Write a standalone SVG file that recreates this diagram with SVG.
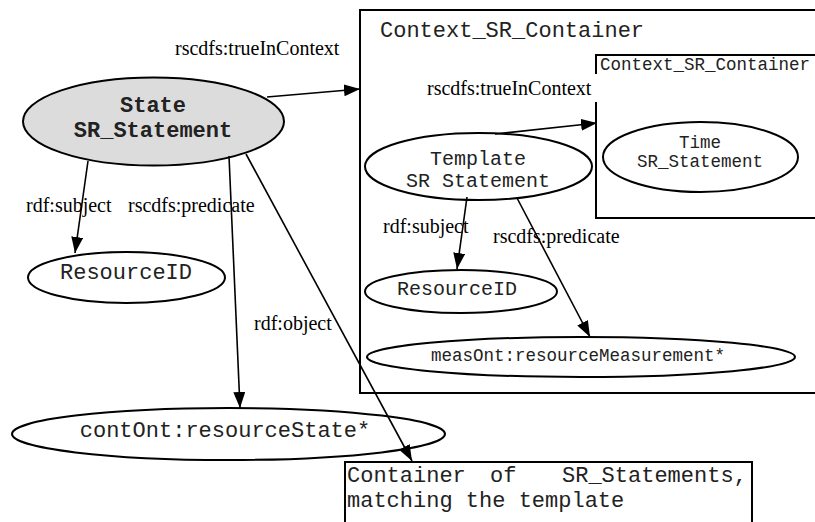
<svg xmlns="http://www.w3.org/2000/svg" width="815" height="522" viewBox="0 0 815 522">
<defs>
<marker id="arr" markerUnits="userSpaceOnUse" markerWidth="17" markerHeight="13" refX="16" refY="6" orient="auto">
<path d="M0,0 L16,6 L0,12 Z" fill="#000"/>
</marker>
<style>
.box{fill:none;stroke:#000;stroke-width:2}
.node{fill:#fff;stroke:#000;stroke-width:2}
.mono{font-family:"Liberation Mono","Courier New",monospace;fill:#222}
.lbl{font-family:"Liberation Serif","Times New Roman",serif;font-size:20px;fill:#000}
.edge{fill:none;stroke:#000;stroke-width:1.6;marker-end:url(#arr)}
</style>
</defs>
<rect width="815" height="522" fill="#fff"/>

<g id="outer-container">
<path class="box" d="M815,10 H360 V393 H815"/>
<text class="mono" x="380" y="37" font-size="22">Context_SR_Container</text>
</g>

<g id="inner-container">
<path class="box" d="M815,55 H596 V218 H815"/>
<text class="mono" x="600" y="70" font-size="17.5">Context_SR_Container</text>
</g>

<g id="result-container">
<path class="box" d="M345,522 V462 H752 V522"/>
<text class="mono" font-size="22" y="482"><tspan x="347">Container</tspan><tspan x="490">of</tspan><tspan x="562">SR_Statements,</tspan></text>
<text class="mono" font-size="22" x="347" y="507">matching the template</text>
</g>

<g id="state">
<ellipse cx="153.5" cy="121.5" rx="130.5" ry="44" fill="#dcdcdc" stroke="#000" stroke-width="2"/>
<text class="mono" font-size="22" font-weight="bold" text-anchor="middle" x="153" y="112">State</text>
<text class="mono" font-size="22" font-weight="bold" text-anchor="middle" x="153" y="137">SR_Statement</text>
</g>

<g id="resourceid-left">
<ellipse class="node" cx="126.5" cy="277.5" rx="98.5" ry="25.5"/>
<text class="mono" font-size="22" text-anchor="middle" x="126" y="279">ResourceID</text>
</g>

<g id="resource-state">
<ellipse class="node" cx="228.5" cy="434" rx="216.5" ry="26"/>
<text class="mono" font-size="22" text-anchor="middle" x="225" y="437">contOnt:resourceState*</text>
</g>

<g id="template">
<ellipse class="node" cx="478.5" cy="166.5" rx="113.5" ry="33.5"/>
<text class="mono" font-size="20" text-anchor="middle" x="478" y="165">Template</text>
<text class="mono" font-size="20" text-anchor="middle" x="478" y="187">SR Statement</text>
</g>

<g id="time">
<ellipse class="node" cx="700.5" cy="157" rx="97.5" ry="35"/>
<text class="mono" font-size="17.5" text-anchor="middle" x="700" y="148">Time</text>
<text class="mono" font-size="17.5" text-anchor="middle" x="700" y="167">SR_Statement</text>
</g>

<g id="resourceid-right">
<ellipse class="node" cx="461" cy="291.5" rx="96" ry="21.5"/>
<text class="mono" font-size="20" text-anchor="middle" x="457" y="295">ResourceID</text>
</g>

<g id="measurement">
<ellipse class="node" cx="581" cy="357" rx="214" ry="20"/>
<text class="mono" font-size="17.5" text-anchor="middle" x="578" y="361">measOnt:resourceMeasurement*</text>
</g>

<g id="connectors">
<path class="edge" d="M267,97 L360,89"/>
<path class="edge" d="M88,161 L75,253"/>
<path class="edge" d="M229,156 L240,408"/>
<path class="edge" d="M246,154 L412,461"/>
<path class="edge" d="M495,134 L597,123"/>
<path class="edge" d="M467,197 L457,269"/>
<path class="edge" d="M517,198 L590,337"/>
<rect x="423" y="74" width="175" height="28" fill="#fff"/>
<text class="lbl" x="175" y="55">rscdfs:trueInContext</text>
<text class="lbl" x="26" y="212">rdf:subject</text>
<text class="lbl" x="128" y="212">rscdfs:predicate</text>
<text class="lbl" x="254" y="330">rdf:object</text>
<text class="lbl" x="427" y="95">rscdfs:trueInContext</text>
<text class="lbl" x="383" y="233">rdf:subject</text>
<text class="lbl" x="493" y="243">rscdfs:predicate</text>
</g>
</svg>
